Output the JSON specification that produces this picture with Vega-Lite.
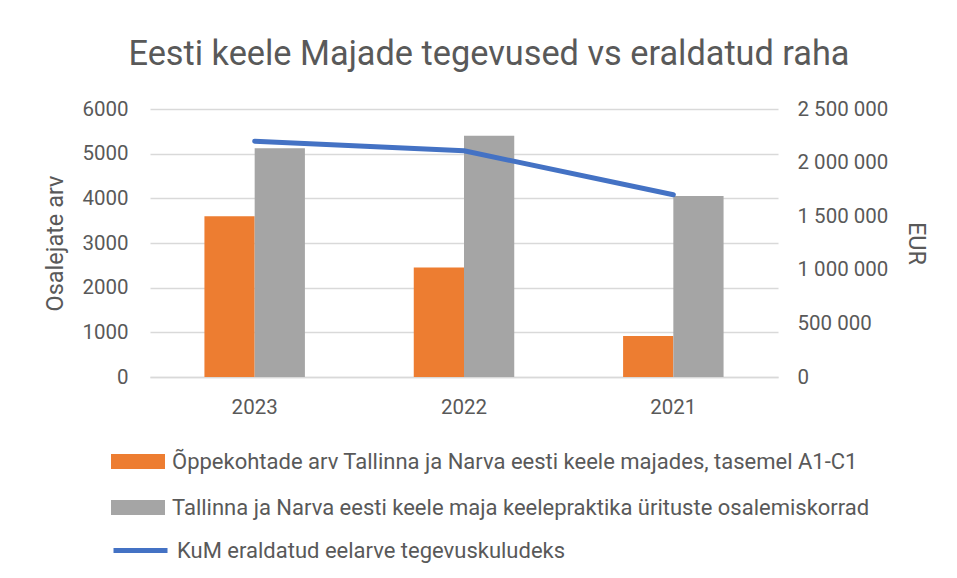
{
  "$schema": "https://vega.github.io/schema/vega-lite/v6.json",
  "width": 628,
  "height": 268,
  "autosize": {"type": "none"},
  "padding": {"left": 150, "top": 109, "right": 179, "bottom": 201},
  "background": "white",
  "title": {
    "text": "Eesti keele Majade tegevused vs eraldatud raha",
    "font": "Roboto",
    "fontSize": 34.3,
    "fontWeight": "normal",
    "color": "#595959",
    "offset": 27,
    "dx": 25
  },
  "datasets": {
    "bars": [
      {"year": "2023", "series": "Õppekohtade arv Tallinna ja Narva eesti keele majades, tasemel A1-C1", "value": 3600},
      {"year": "2023", "series": "Tallinna ja Narva eesti keele maja keelepraktika ürituste osalemiskorrad", "value": 5120},
      {"year": "2022", "series": "Õppekohtade arv Tallinna ja Narva eesti keele majades, tasemel A1-C1", "value": 2450},
      {"year": "2022", "series": "Tallinna ja Narva eesti keele maja keelepraktika ürituste osalemiskorrad", "value": 5400},
      {"year": "2021", "series": "Õppekohtade arv Tallinna ja Narva eesti keele majades, tasemel A1-C1", "value": 920},
      {"year": "2021", "series": "Tallinna ja Narva eesti keele maja keelepraktika ürituste osalemiskorrad", "value": 4050}
    ],
    "budget": [
      {"year": "2023", "series": "KuM eraldatud eelarve tegevuskuludeks", "eur": 2200000},
      {"year": "2022", "series": "KuM eraldatud eelarve tegevuskuludeks", "eur": 2110000},
      {"year": "2021", "series": "KuM eraldatud eelarve tegevuskuludeks", "eur": 1700000}
    ]
  },
  "encoding": {
    "x": {
      "field": "year",
      "type": "nominal",
      "sort": ["2023", "2022", "2021"],
      "scale": {"paddingInner": 0.52, "paddingOuter": 0.26},
      "axis": {
        "title": null,
        "labelAngle": 0,
        "ticks": false,
        "domain": true,
        "domainColor": "#d9d9d9",
        "domainWidth": 1.3,
        "labelPadding": 20,
        "grid": false
      }
    }
  },
  "layer": [
    {
      "data": {"name": "bars"},
      "mark": {"type": "bar"},
      "encoding": {
        "xOffset": {
          "field": "series",
          "type": "nominal",
          "sort": ["Õppekohtade arv Tallinna ja Narva eesti keele majades, tasemel A1-C1", "Tallinna ja Narva eesti keele maja keelepraktika ürituste osalemiskorrad"],
          "scale": {"paddingInner": 0, "paddingOuter": 0}
        },
        "y": {
          "field": "value",
          "type": "quantitative",
          "scale": {"domain": [0, 6000], "nice": false},
          "axis": {
            "title": "Osalejate arv",
            "values": [0, 1000, 2000, 3000, 4000, 5000, 6000],
            "format": "d",
            "domain": false,
            "ticks": false,
            "labelPadding": 22,
            "titlePadding": 14,
            "grid": true
          }
        },
        "fill": {
          "field": "series",
          "type": "nominal",
          "sort": ["Õppekohtade arv Tallinna ja Narva eesti keele majades, tasemel A1-C1", "Tallinna ja Narva eesti keele maja keelepraktika ürituste osalemiskorrad"],
          "scale": {"range": ["#ed7d31", "#a5a5a5"]},
          "legend": {
            "orient": "none",
            "legendX": -25.5,
            "legendY": 339,
            "direction": "vertical",
            "title": null,
            "padding": 0,
            "symbolType": "M-2,-0.55H2V0.55H-2Z",
            "symbolSize": 729,
            "symbolStrokeWidth": 0,
            "symbolOpacity": 1,
            "rowPadding": 21,
            "labelOffset": 20.5,
            "labelLimit": 900
          }
        }
      }
    },
    {
      "data": {"name": "budget"},
      "mark": {"type": "line", "strokeWidth": 5, "strokeCap": "round", "strokeJoin": "round"},
      "encoding": {
        "y": {
          "field": "eur",
          "type": "quantitative",
          "scale": {"domain": [0, 2500000], "nice": false},
          "axis": {
            "orient": "right",
            "title": "EUR",
            "values": [0, 500000, 1000000, 1500000, 2000000, 2500000],
            "format": ",d",
            "domain": false,
            "ticks": false,
            "grid": false,
            "labelPadding": 19,
            "titlePadding": 16
          }
        },
        "stroke": {
          "field": "series",
          "type": "nominal",
          "scale": {"range": ["#4472c4"]},
          "legend": {
            "orient": "none",
            "legendX": -39,
            "legendY": 412,
            "title": null,
            "padding": 0,
            "symbolType": "stroke",
            "symbolSize": 2916,
            "symbolStrokeWidth": 5,
            "labelOffset": 7,
            "labelLimit": 900
          }
        }
      }
    }
  ],
  "resolve": {"scale": {"y": "independent"}},
  "config": {
    "locale": {
      "number": {"decimal": ",", "thousands": " ", "grouping": [3], "currency": ["", " €"]}
    },
    "view": {"stroke": null},
    "font": "Roboto",
    "axis": {
      "labelFont": "Roboto",
      "labelFontSize": 20.5,
      "labelColor": "#595959",
      "titleFont": "Roboto",
      "titleFontSize": 23.5,
      "titleFontWeight": "normal",
      "titleColor": "#595959",
      "gridColor": "#d9d9d9",
      "gridWidth": 1.3
    },
    "legend": {
      "labelFont": "Roboto",
      "labelFontSize": 22,
      "labelColor": "#595959"
    }
  }
}
